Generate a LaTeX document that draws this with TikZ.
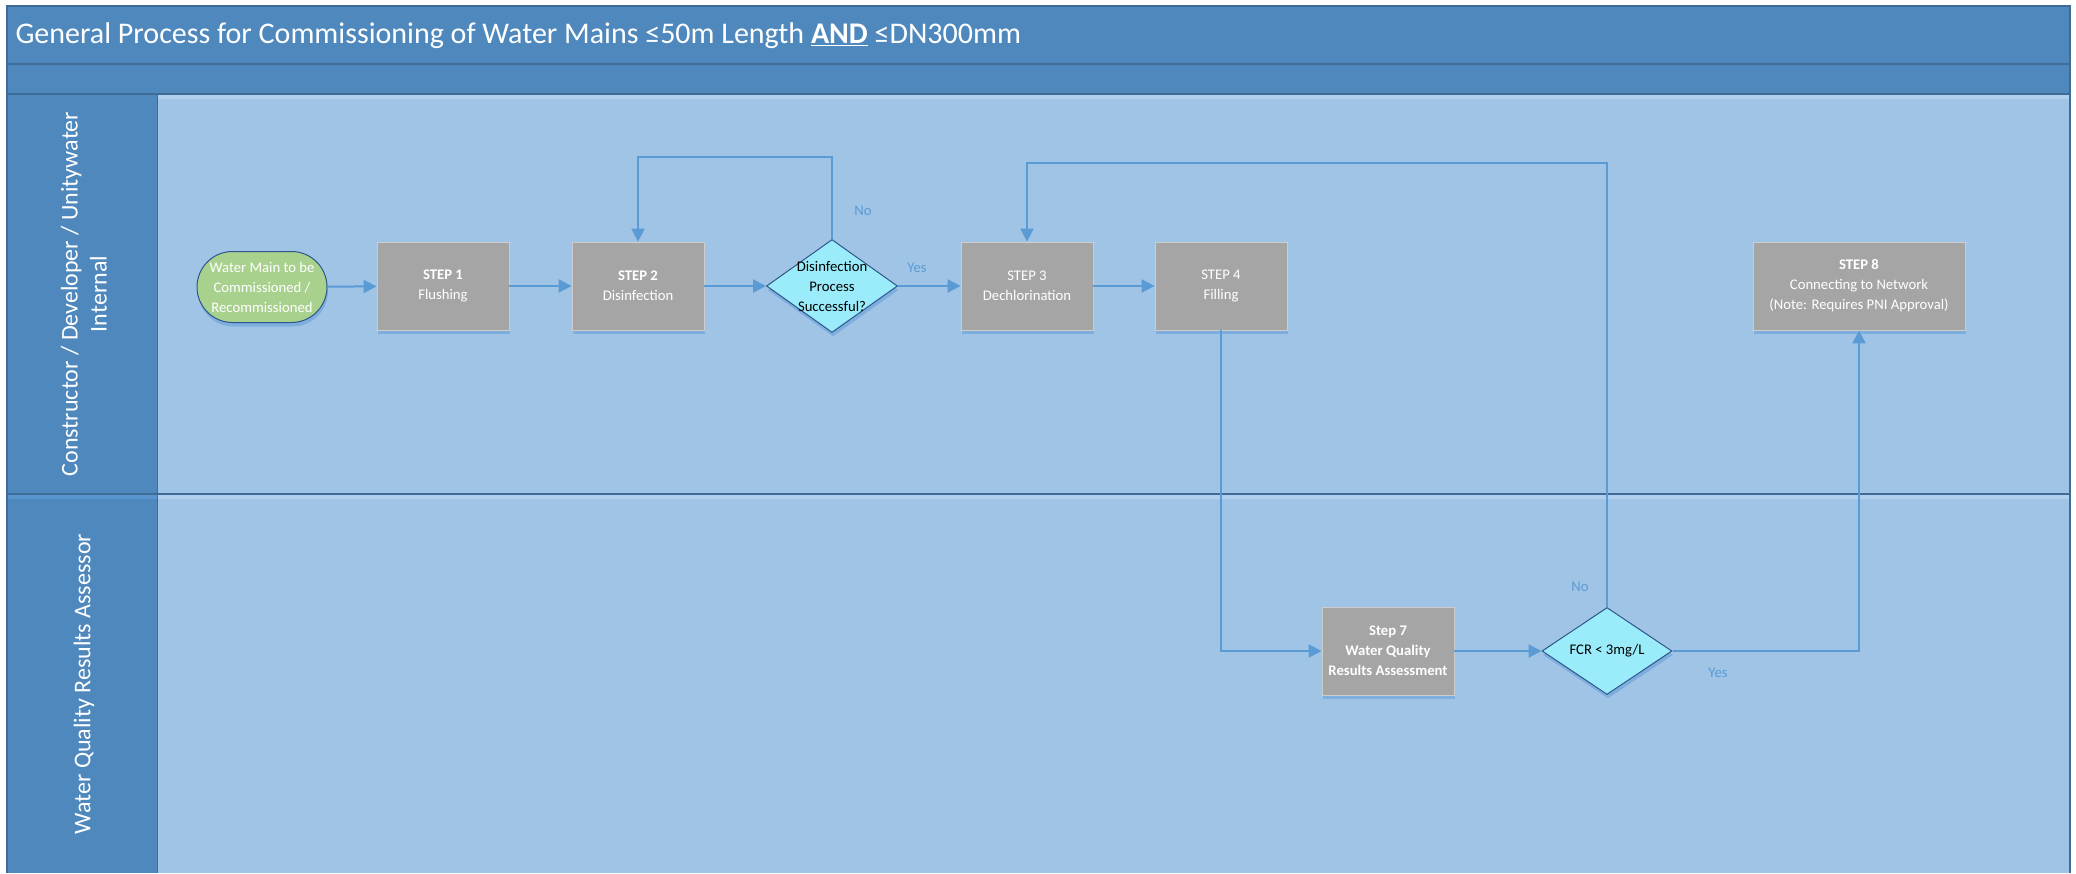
\documentclass[tikz,border=0pt]{standalone}
\usepackage{fontspec}
\setmainfont{Carlito}
\usetikzlibrary{arrows.meta,shapes.geometric,shapes.misc,shadows}

\definecolor{bandblue}{RGB}{79,136,189}
\definecolor{edgeblue}{RGB}{62,108,150}
\definecolor{lanefill}{RGB}{160,196,230}
\definecolor{laneedge}{RGB}{178,208,238}
\definecolor{headedge}{RGB}{88,148,206}
\definecolor{flowblue}{RGB}{91,155,213}
\definecolor{boxgray}{RGB}{165,165,165}
\definecolor{boxedge}{RGB}{205,205,205}
\definecolor{startgreen}{RGB}{169,209,142}
\definecolor{startedge}{RGB}{47,85,140}
\definecolor{decisioncyan}{RGB}{154,236,250}
\definecolor{shadowblue}{RGB}{126,174,222}

\tikzset{
  boxfont/.style={font=\fontsize{14.7}{20}\selectfont},
  softshadow/.style={drop shadow={shadow xshift=1pt, shadow yshift=-4pt, fill=shadowblue, opacity=1}},
  stepbox/.style={rectangle, draw=boxedge, line width=0.8pt, fill=boxgray, text=white,
    minimum width=132pt, minimum height=88pt, inner sep=2pt, align=center, boxfont, softshadow},
  startbox/.style={rounded rectangle, draw=startedge, line width=1pt, fill=startgreen, text=white,
    minimum width=132pt, minimum height=71pt, inner sep=1pt, align=center, boxfont, softshadow},
  decision/.style={diamond, draw=startedge, line width=1pt, fill=decisioncyan,
    minimum width=131pt, minimum height=93pt, inner sep=0pt, softshadow},
  flow/.style={draw=flowblue, line width=2pt, -{Triangle[length=13pt,width=13pt]}},
  answer/.style={text=flowblue, boxfont},
  lanetext/.style={text=white, rotate=90, align=center, font=\fontsize{24}{29}\selectfont},
}

\begin{document}
\begin{tikzpicture}[x=1pt,y=-1pt]
  \useasboundingbox (0,0) rectangle (2076,873);

  % draw the title bands
  \fill[bandblue] (7,6) rectangle (2070,94);
  \draw[edgeblue, line width=1.5pt] (7,64) -- (2070,64);
  \draw[edgeblue, line width=1.5pt] (7,94) -- (2070,94);
  \node[anchor=west, text=white, font=\fontsize{30}{35}\selectfont] (title) at (12,36)
    {General Process for Commissioning of Water Mains ≤50m Length \underline{\textbf{AND}} ≤DN300mm};

  % draw the swim lanes
  \fill[lanefill] (157,95) rectangle (2070,873);
  \fill[laneedge] (157,95) rectangle (2070,99);
  \fill[laneedge] (157,495) rectangle (2070,499);
  \fill[bandblue] (7,95) rectangle (157,873);
  \fill[headedge] (7,495) rectangle (157,499);
  \draw[edgeblue, line width=1.5pt] (7,494) -- (2070,494);
  \draw[edgeblue, line width=1pt] (157,95) -- (157,873);
  \draw[edgeblue, line width=1.5pt] (7,873) -- (7,6) -- (2070,6) -- (2070,873);
  \node[lanetext] (lane1) at (84,294) {Constructor / Developer / Unitywater\\Internal};
  \node[lanetext] (lane2) at (84,684) {Water Quality Results Assessor};

  % add in the steps
  \node[startbox] (start) at (262,287) {Water Main to be\\Commissioned /\\Recommissioned};
  \node[stepbox] (step1) at (443,286) {\textbf{STEP 1}\\Flushing};
  \node[stepbox] (step2) at (638,286) {\textbf{STEP 2}\\Disinfection};
  \node[decision, label={[boxfont, align=center]center:Disinfection\\Process\\Successful?}] (disinfok) at (832,286) {};
  \node[stepbox] (step3) at (1027,286) {STEP 3\\Dechlorination};
  \node[stepbox] (step4) at (1221,286) {STEP 4\\Filling};
  \node[stepbox, minimum width=212pt] (step8) at (1859,286) {\textbf{STEP 8}\\Connecting to Network\\(Note: Requires PNI Approval)};
  \node[stepbox] (step7) at (1388,651) {\textbf{Step 7}\\\textbf{Water Quality}\\\textbf{Results Assessment}};
  \node[decision, minimum height=87pt, minimum width=130pt, label={[boxfont]center:FCR < 3mg/L}] (fcrok) at (1607,651) {};

  % add in the connectors
  \coordinate (redo1) at (832,157);
  \coordinate (redo2) at (1607,163);
  \draw[flow] (start) -- (step1);
  \draw[flow] (step1) -- (step2);
  \draw[flow] (step2) -- (disinfok);
  \draw[flow] (disinfok.north) -- (redo1) -| (step2.north);
  \draw[flow] (disinfok) -- (step3);
  \draw[flow] (step3) -- (step4);
  \draw[flow] (step4.south) |- (step7.west);
  \draw[flow] (step7) -- (fcrok);
  \draw[flow] (fcrok.north) -- (redo2) -| (step3.north);
  \draw[flow] (fcrok.east) -| (step8.south);

  % answers on the decisions
  \node[answer] (no1) at (863,211) {No};
  \node[answer] (yes1) at (917,268) {Yes};
  \node[answer] (no2) at (1580,587) {No};
  \node[answer] (yes2) at (1718,673) {Yes};
\end{tikzpicture}
\end{document}
